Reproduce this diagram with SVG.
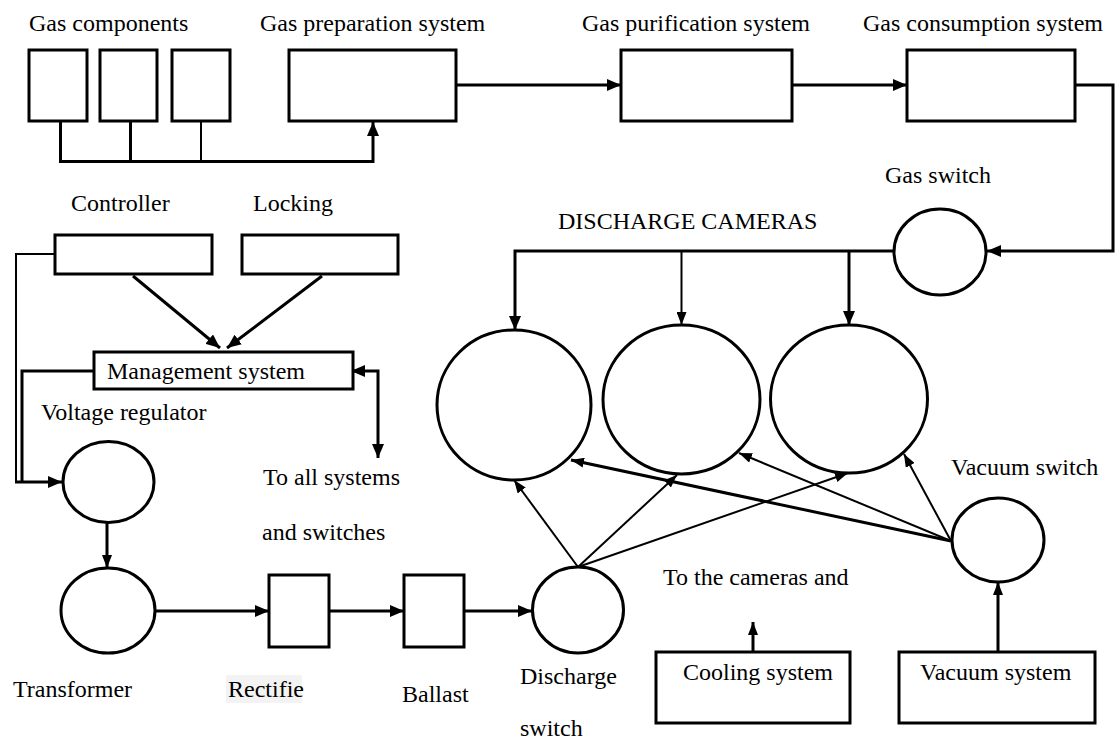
<svg xmlns="http://www.w3.org/2000/svg" width="1115" height="740" viewBox="0 0 1115 740">
<style>
.box{fill:#fff;stroke:#000;stroke-width:3}
.circ{fill:#fff;stroke:#000;stroke-width:3}
.t{font-family:"Liberation Serif","Times New Roman",serif;font-size:24px;fill:#000}
.c{fill:none;stroke:#000;stroke-width:3}
.c2{fill:none;stroke:#000;stroke-width:2}
</style>
<defs>
<marker id="ah" markerUnits="userSpaceOnUse" markerWidth="16" markerHeight="12" refX="14" refY="6" orient="auto"><path d="M0,0 L14,6 L0,12 z" fill="#000"/></marker>
<marker id="ahs" markerUnits="userSpaceOnUse" markerWidth="14" markerHeight="10" refX="13" refY="5" orient="auto"><path d="M0,0 L13,5 L0,10 z" fill="#000"/></marker>
<marker id="ahst" markerUnits="userSpaceOnUse" markerWidth="16" markerHeight="12" refX="2" refY="6" orient="auto"><path d="M14,0 L0,6 L14,12 z" fill="#000"/></marker>
</defs>
<rect width="1115" height="740" fill="#fff"/>

<g id="connectors">
<!-- gas components to prep -->
<path class="c" d="M60.5,121 V161.5 H373 V122" marker-end="url(#ah)"/>
<path class="c" d="M130.5,121 V161.5"/>
<path class="c2" d="M201,121 V161.5"/>
<path class="c" d="M456,85 H621" marker-end="url(#ah)"/>
<path class="c" d="M792,85 H907" marker-end="url(#ah)"/>
<path class="c" d="M1075,85 H1113 V251 H987" marker-end="url(#ah)"/>
<!-- gas bus to cameras -->
<path class="c" d="M894,251 H515 V330" marker-end="url(#ah)"/>
<path class="c2" d="M681.5,251 V325" marker-end="url(#ahs)"/>
<path class="c" d="M849,251 V325" marker-end="url(#ah)"/>
<!-- controller/locking to management -->
<path class="c" d="M133,276 L220,348" marker-end="url(#ah)"/>
<path class="c" d="M322,276 L227,348" marker-end="url(#ah)"/>
<path class="c2" d="M55,254 H16 V482"/>
<path class="c" d="M94,371 H22 V482"/>
<path class="c" d="M15,482 H62" marker-end="url(#ah)"/>
<path class="c" d="M353,371 H378 V458" marker-start="url(#ahst)" marker-end="url(#ah)"/>
<!-- power chain -->
<path class="c" d="M107,522 V568" marker-end="url(#ahs)"/>
<path class="c" d="M155,611 H269" marker-end="url(#ah)"/>
<path class="c" d="M329,611 H404" marker-end="url(#ah)"/>
<path class="c" d="M464,611 H532" marker-end="url(#ah)"/>
<!-- discharge switch to cameras -->
<path class="c2" d="M578,567 L514,480" marker-end="url(#ahs)"/>
<path class="c2" d="M578,567 L677,475" marker-end="url(#ahs)"/>
<path class="c2" d="M578,567 L848,473" marker-end="url(#ahs)"/>
<!-- vacuum switch to cameras -->
<path class="c" d="M951,541 L571,460" marker-end="url(#ahs)"/>
<path class="c2" d="M951,541 L739,453" marker-end="url(#ahs)"/>
<path class="c2" d="M951,541 L904,454" marker-end="url(#ahs)"/>
<!-- cooling and vacuum system -->
<path class="c" d="M753,652 V622" marker-end="url(#ahs)"/>
<path class="c" d="M998,652 V582" marker-end="url(#ahs)"/>
</g>

<g id="gas-components">
<rect class="box" x="29" y="50" width="58" height="71"/>
<rect class="box" x="100" y="50" width="57" height="71"/>
<rect class="box" x="172" y="50" width="58" height="71"/>
<text class="t" x="29" y="31">Gas components</text>
</g>
<g id="gas-preparation">
<rect class="box" x="289" y="50" width="167" height="71"/>
<text class="t" x="260" y="31">Gas preparation system</text>
</g>
<g id="gas-purification">
<rect class="box" x="621" y="50" width="171" height="71"/>
<text class="t" x="582" y="31">Gas purification system</text>
</g>
<g id="gas-consumption">
<rect class="box" x="907" y="50" width="168" height="71"/>
<text class="t" x="863" y="31">Gas consumption system</text>
</g>
<g id="gas-switch">
<ellipse class="circ" cx="940" cy="252" rx="46" ry="43"/>
<text class="t" x="885" y="183">Gas switch</text>
</g>
<g id="discharge-cameras">
<text class="t" x="558" y="229">DISCHARGE CAMERAS</text>
<ellipse class="circ" cx="514" cy="405" rx="77" ry="75"/>
<ellipse class="circ" cx="681.5" cy="399.5" rx="78.5" ry="74.5"/>
<ellipse class="circ" cx="849" cy="399" rx="78.5" ry="74"/>
</g>
<g id="controller">
<rect class="box" x="55" y="235" width="157" height="39"/>
<text class="t" x="71" y="211">Controller</text>
</g>
<g id="locking">
<rect class="box" x="242" y="235" width="156" height="39"/>
<text class="t" x="253" y="211">Locking</text>
</g>
<g id="management">
<rect class="box" x="94" y="352" width="259" height="37"/>
<text class="t" x="107" y="379">Management system</text>
</g>
<g id="to-all">
<text class="t" x="263" y="485">To all systems</text>
<text class="t" x="262" y="540">and switches</text>
</g>
<g id="voltage-regulator">
<ellipse class="circ" cx="108.5" cy="482" rx="45.5" ry="40.5"/>
<text class="t" x="41" y="420">Voltage regulator</text>
</g>
<g id="transformer">
<ellipse class="circ" cx="108" cy="610.5" rx="47" ry="42.5"/>
<text class="t" x="13" y="697">Transformer</text>
</g>
<g id="rectifier">
<rect class="box" x="269" y="575" width="60" height="72"/>
<rect x="226" y="675" width="76" height="28" fill="#f3f3f3"/>
<text class="t" x="228" y="697">Rectifie</text>
</g>
<g id="ballast">
<rect class="box" x="404" y="575" width="60" height="72"/>
<text class="t" x="402" y="702">Ballast</text>
</g>
<g id="discharge-switch">
<ellipse class="circ" cx="578" cy="610" rx="45.5" ry="43"/>
<text class="t" x="520" y="684">Discharge</text>
<text class="t" x="520" y="736">switch</text>
</g>
<g id="vacuum-switch">
<ellipse class="circ" cx="998" cy="540" rx="46" ry="42"/>
<text class="t" x="951" y="475">Vacuum switch</text>
</g>
<g id="cooling">
<text class="t" x="663" y="585">To the cameras and</text>
<rect class="box" x="656" y="652" width="194" height="71"/>
<text class="t" x="683" y="680">Cooling system</text>
</g>
<g id="vacuum-system">
<rect class="box" x="899" y="652" width="196" height="71"/>
<text class="t" x="920" y="680">Vacuum system</text>
</g>
</svg>
